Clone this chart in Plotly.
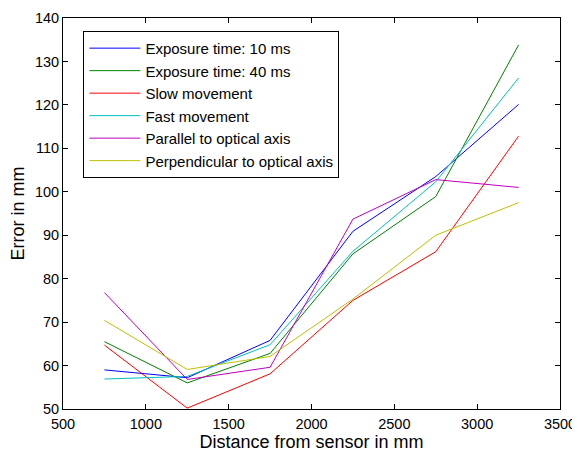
import plotly.graph_objects as go

distance = [750, 1250, 1750, 2250, 2750, 3250]
exp10 = [59.0, 57.2, 65.8, 90.9, 103.5, 120.1]
exp40 = [65.5, 56.0, 62.8, 85.7, 98.9, 133.8]
slow = [64.7, 50.2, 58.1, 75.0, 86.2, 112.8]
fast = [56.9, 57.5, 64.8, 86.3, 102.3, 126.2]
parallel = [76.8, 56.8, 59.6, 93.7, 102.8, 101.0]
perpendicular = [70.4, 59.1, 62.1, 75.3, 90.0, 97.5]

names = ["Exposure time: 10 ms", "Exposure time: 40 ms", "Slow movement",
         "Fast movement", "Parallel to optical axis", "Perpendicular to optical axis"]
series = [exp10, exp40, slow, fast, parallel, perpendicular]
colors = ["#0000ff", "#008000", "#ff0000", "#00bfbf", "#bf00bf", "#bfbf00"]

fig = go.Figure()
for i, (n, s, c) in enumerate(zip(names, series, colors)):
    fig.add_trace(go.Scatter(x=distance, y=s, mode="lines", name=n,
                             line=dict(color=c, width=1)))

axis_common = dict(showline=True, linecolor="black", linewidth=1, mirror="ticks",
                   ticks="inside", ticklen=5, tickcolor="black", showgrid=False,
                   zeroline=False, automargin=False, ticklabeloverflow="allow",
                   tickfont=dict(size=14.5, color="black"))

fig.update_layout(
    width=580, height=450,
    margin=dict(l=55, r=28, t=10, b=49),
    paper_bgcolor="white", plot_bgcolor="white",
    font=dict(family="Liberation Sans, Arial, sans-serif", color="black", size=14),
    xaxis=dict(range=[500, 3500], dtick=500, tick0=500, ticklabelstandoff=2,
               title=dict(text="Distance from sensor in mm", font=dict(size=18), standoff=0),
               **axis_common),
    yaxis=dict(range=[50, 140], dtick=10, tick0=50,
               title=dict(text="Error in mm", font=dict(size=18), standoff=8),
               **axis_common),
    legend=dict(x=0.041, y=0.967, xanchor="left", yanchor="top",
                bgcolor="white", bordercolor="black", borderwidth=1,
                font=dict(size=15), tracegroupgap=0,
                itemwidth=51),
    showlegend=True,
)

fig.write_html("out.html")
